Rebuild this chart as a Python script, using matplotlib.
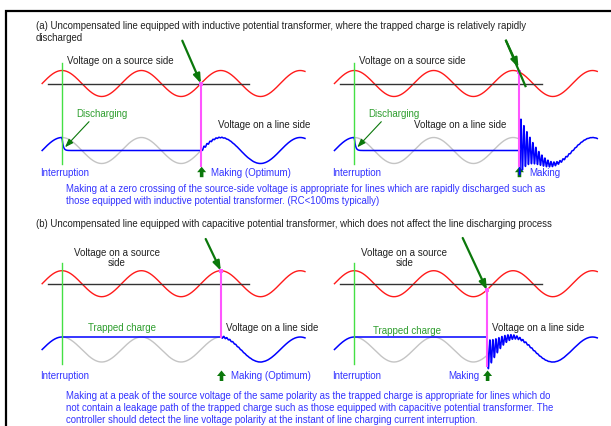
import numpy as np
import matplotlib.pyplot as plt
from matplotlib.patches import FancyArrow

plt.rcParams['font.family'] = ['Liberation Sans', 'DejaVu Sans']

# one power-frequency cycle, in pixels of the drawing
PERIOD = 79.4

# four cases: (a) left, (a) right, (b) left, (b) right
making_cycles = [1.75, 2.08, 2.0, 1.67]     # making instant, cycles after interruption
trapped_charge = [0.0, 0.0, 1.0, 1.0]       # line voltage held after interruption (p.u.)
ringing = [0.12, -2.3, 0.10, 1.3]           # high-frequency transient after making (p.u.)
ringing_offset = [0.0, -0.5, 0.0, 0.0]
making_labels = ["Making (Optimum)", "Making", "Making (Optimum)", "Making"]

titles = [
    "(a) Uncompensated line equipped with inductive potential transformer, where the trapped charge is relatively rapidly\ndischarged",
    "(b) Uncompensated line equipped with capacitive potential transformer, which does not affect the line discharging process",
]
notes = [
    "Making at a zero crossing of the source-side voltage is appropriate for lines which are rapidly discharged such as\n"
    "those equipped with inductive potential transformer. (RC<100ms typically)",
    "Making at a peak of the source voltage of the same polarity as the trapped charge is appropriate for lines which do\n"
    "not contain a leakage path of the trapped charge such as those equipped with capacitive potential transformer. The\n"
    "controller should detect the line voltage polarity at the instant of line charging current interruption.",
]

RED = '#ff1a1a'
BLUE = '#0000ff'
GRAY = '#c4c4c4'
TXT_BLUE = '#3333ff'
TXT_GREEN = '#2e9e2e'
DARK_GREEN = '#0b780b'
LIME = '#44e044'
MAGENTA = '#ff55ff'

fig = plt.figure(figsize=(6.11, 4.27), dpi=100)
ax = fig.add_axes([0, 0, 1, 1])
ax.set_xlim(0, 611)
ax.set_ylim(427, 0)
ax.axis('off')

# frame
ax.plot([6, 6, 611], [427, 11.5, 11.5], color='black', lw=1.6, solid_joinstyle='miter')

col_x = [62.0, 354.3]
rows = [
    dict(src=84.5, line=151.5, amp_s=13.0, amp_l=13.0, top=63.5, bottom=165.0),
    dict(src=284.7, line=350.5, amp_s=13.0, amp_l=12.5, top=263.5, bottom=365.0),
]


def draw_case(k, x0, r):
    x = np.arange(x0 - 0.25 * PERIOD, x0 + 3.06 * PERIOD, 0.1)
    cyc = (x - x0) / PERIOD
    src = np.cos(2 * np.pi * cyc)
    xm = x0 + making_cycles[k] * PERIOD
    src_m = np.cos(2 * np.pi * making_cycles[k])
    q = trapped_charge[k]

    # source side
    ax.plot(x, r['src'] - r['amp_s'] * src, color=RED, lw=1.0)
    ax.plot([x0 - 0.18 * PERIOD, x0 + 2.36 * PERIOD], [r['src'], r['src']], color='#333333', lw=1.0)

    # source waveform seen behind the disconnected line
    g = (x >= x0) & (x <= xm)
    ax.plot(x[g], r['line'] - r['amp_l'] * src[g], color=GRAY, lw=1.0)

    # line side
    dt = x - x0
    dm = x - xm
    vl = np.where(x <= x0, src, q + (1 - q) * np.exp(-np.clip(dt, 0, None) / 1.2))
    after = x >= xm
    vl[after] = (src[after]
                 + ringing[k] * np.exp(-dm[after] / 13.0) * np.cos(2 * np.pi * dm[after] / 3.0)
                 + ringing_offset[k] * np.exp(-dm[after] / 15.0))
    ax.plot(x, r['line'] - r['amp_l'] * vl, color=BLUE, lw=1.1)

    # interruption and making instants
    ax.plot([x0, x0], [r['top'], r['bottom']], color=LIME, lw=1.0)
    y_dot = r['src'] - r['amp_s'] * src_m
    mb = r['line'] - r['amp_l'] * q if k == 2 else r['bottom'] + 1.5
    ax.plot([xm, xm], [y_dot, mb], color=MAGENTA, lw=1.5)
    ax.plot(xm, y_dot, 's', color=MAGENTA, ms=2.6, mew=0)
    return xm, y_dot


xms = []
for k in range(4):
    xm, yd = draw_case(k, col_x[k % 2], rows[k // 2])
    xms.append((xm, yd))

# pointers to the making instants
pointer_starts = [(182.3, 41.7), (506.0, 41.7), (205.7, 240.0), (462.7, 239.0)]
for k, (sx, sy) in enumerate(pointer_starts):
    ex, ey = xms[k]
    if k == 1:
        ax.plot([sx, ex + 6], [sy, ey + 14], color=DARK_GREEN, lw=1.6)
        ex, ey = sx + 12.5, sy + 27
    ax.annotate('', xy=(ex, ey), xytext=(sx, sy),
                arrowprops=dict(arrowstyle='-|>,head_length=0.55,head_width=0.2',
                                color=DARK_GREEN, lw=1.6, shrinkA=0, shrinkB=0))

# discharging of the line in case (a)
for off in [0.0, 292.3]:
    ax.text(76 + off, 114.3, "Discharging", color=TXT_GREEN, fontsize=7, ha='left', va='center')
    ax.annotate('', xy=(65 + off, 148.3), xytext=(89 + off, 122.7),
                arrowprops=dict(arrowstyle='-|>,head_length=0.5,head_width=0.18',
                                color=DARK_GREEN, lw=0.8, shrinkA=0, shrinkB=0))
    ax.text(67 + off, 61, "Voltage on a source side", color='#222222', fontsize=7, ha='left', va='center')

ax.text(217.7, 125, "Voltage on a line side", color='#222222', fontsize=7, ha='left', va='center')
ax.text(414.3, 125, "Voltage on a line side", color='#222222', fontsize=7, ha='left', va='center')

# case (b) labels
for cx, tx, ty in [(116.7, 121.7, 328.0), (404.3, 406.7, 330.7)]:
    ax.text(cx, 258.3, "Voltage on a source\nside", color='#222222', fontsize=7,
            ha='center', va='center', linespacing=1.05)
    ax.text(tx, ty, "Trapped charge", color=TXT_GREEN, fontsize=7, ha='center', va='center')
ax.text(225.7, 327.7, "Voltage on a line side", color='#222222', fontsize=7, ha='left', va='center')
ax.text(491.7, 327.7, "Voltage on a line side", color='#222222', fontsize=7, ha='left', va='center')

# interruption / making captions
label_y = [172.7, 376.5]
for k in range(4):
    y = label_y[k // 2]
    ax.text(col_x[k % 2] - 22, y, "Interruption", color=TXT_BLUE, fontsize=7, ha='left', va='center')
    ax_x = xms[k][0] + (0.7 if k != 1 else 0)
    ax.add_patch(FancyArrow(ax_x, y + 5.5, 0, -10.5, width=3.6, head_width=9, head_length=5.5,
                            length_includes_head=True, color=DARK_GREEN, lw=0))
    if k == 3:
        ax.text(ax_x - 8, y, making_labels[k], color=TXT_BLUE, fontsize=7, ha='right', va='center')
    else:
        ax.text(ax_x + 9.5, y, making_labels[k], color=TXT_BLUE, fontsize=7, ha='left', va='center')

# section titles and notes
ax.text(35.5, 31.7, titles[0], color='#222222', fontsize=6.9, ha='left', va='center', linespacing=1.22)
ax.text(35.5, 224, titles[1], color='#222222', fontsize=6.9, ha='left', va='center')
ax.text(65.5, 194.7, notes[0], color=TXT_BLUE, fontsize=6.9, ha='left', va='center', linespacing=1.22)
ax.text(65.5, 407.7, notes[1], color=TXT_BLUE, fontsize=6.9, ha='left', va='center', linespacing=1.25)

fig.savefig('out.png', dpi=100)
